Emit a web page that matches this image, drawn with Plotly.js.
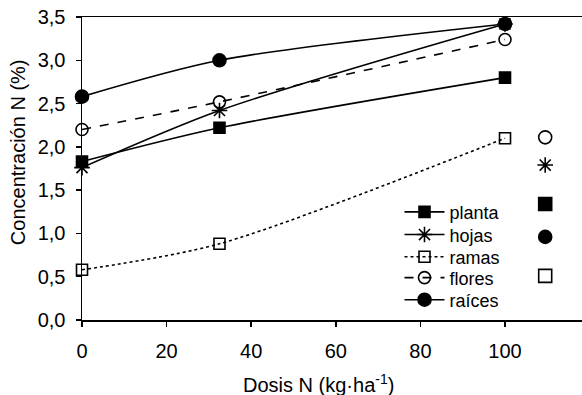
<!DOCTYPE html>
<html><head><meta charset="utf-8">
<script src="https://cdn.plot.ly/plotly-3.0.1.min.js"></script>
<style>body{margin:0;background:#fff}#c{width:582px;height:395px}</style>
</head><body><div id="c"></div>
<script>
var dosis = [0, 32.5, 100];
var planta = [1.83, 2.22, 2.80];
var hojas = [1.76, 2.42, 3.42];
var ramas = [0.58, 0.88, 2.10];
var flores = [2.20, 2.52, 3.24];
var raices = [2.58, 3.00, 3.42];
// stray marker column on the right side of the original figure
var extraX = [109.5, 109.5, 109.5, 109.5, 109.5];
var extraY = [2.11, 1.79, 1.34, 0.96, 0.51];
var extraSym = ['circle-open', 'asterisk-open', 'square', 'circle', 'square-open'];
var yTicks = [0, 0.5, 1, 1.5, 2, 2.5, 3, 3.5];
var xTicks = [0, 20, 40, 60, 80, 100];
var xTitle = 'Dosis N (kg·ha<sup>-1</sup>)';
var yTitle = 'Concentración N (%)';

function tr(name, y, dash, sym, size, leg) {
  return {x: dosis, y: y, name: name, type: 'scatter', mode: 'lines+markers', legend: leg,
    line: {color: '#000', width: 1.6, dash: dash, shape: 'spline', smoothing: 0.8},
    marker: {symbol: sym, size: size, color: '#000', line: {color: '#000', width: 1.6}},
    cliponaxis: false};
}
var data = [
  tr('planta', planta, 'solid', 'square', 11, 'legend'),
  tr('hojas', hojas, 'solid', 'asterisk-open', 13, 'legend2'),
  tr('ramas', ramas, 'dot', 'square-open', 11, 'legend3'),
  tr('flores', flores, 'dash', 'circle-open', 12, 'legend4'),
  tr('raíces', raices, 'solid', 'circle', 13, 'legend5'),
  {x: extraX, y: extraY, type: 'scatter', mode: 'markers', showlegend: false, cliponaxis: false,
   marker: {symbol: extraSym, size: 13, color: '#000', line: {color: '#000', width: 1.6}}}
];
function leg(yy) {
  return {x: 0.635, y: yy, xanchor: 'left', yanchor: 'middle', bgcolor: 'rgba(0,0,0,0)',
    font: {size: 18}, itemwidth: 40};
}
var layout = {
  width: 582, height: 395,
  margin: {l: 82, r: 0, t: 17, b: 75},
  paper_bgcolor: '#fff', plot_bgcolor: '#fff',
  separators: ',.',
  font: {family: 'Liberation Sans, Arial, sans-serif', color: '#000', size: 20},
  showlegend: true,
  legend: leg(0.356), legend2: leg(0.281), legend3: leg(0.208), legend4: leg(0.139), legend5: leg(0.066),
  xaxis: {range: [0, 118.2], tickvals: xTicks, showgrid: false, zeroline: false,
    showline: true, linecolor: '#000', linewidth: 1.5, mirror: true,
    ticks: 'outside', ticklen: 5, tickwidth: 1.5, tickcolor: '#000', ticklabelstandoff: 7,
    tickfont: {size: 20}},
  yaxis: {range: [0, 3.5], tickvals: yTicks, tickformat: '.1f', showgrid: false, zeroline: false,
    showline: true, linecolor: '#000', linewidth: 1.5,
    ticks: 'outside', ticklen: 5, tickwidth: 1.5, tickcolor: '#000', ticklabelstandoff: 6,
    tickfont: {size: 20}},
  annotations: [
    {text: xTitle, xref: 'paper', yref: 'paper', x: 0.472, y: -0.211, xanchor: 'center', yanchor: 'middle',
     showarrow: false, font: {size: 20}},
    {text: yTitle, xref: 'paper', yref: 'paper', x: -0.128, y: 0.554, xanchor: 'center', yanchor: 'middle',
     textangle: -90, showarrow: false, font: {size: 20}}
  ]
};
Plotly.newPlot('c', data, layout, {displayModeBar: false, staticPlot: true});
</script></body></html>
